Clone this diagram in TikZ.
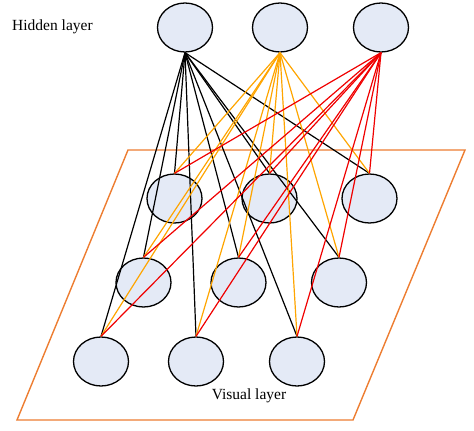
\documentclass[tikz,border=0pt]{standalone}
\usepackage{fontspec}
\setmainfont{Liberation Serif}
\usetikzlibrary{shapes.geometric}
\definecolor{nodefill}{RGB}{228,234,246}
\definecolor{planecol}{RGB}{237,125,49}
\definecolor{orangeline}{RGB}{255,165,0}
\definecolor{redline}{RGB}{240,0,0}
\tikzset{
  neuron/.style={ellipse, draw=black, line width=1.3pt, fill=nodefill, minimum width=55pt, minimum height=49pt, inner sep=0pt},
  lbl/.style={font=\fontsize{15.5}{18}\selectfont, inner sep=0pt},
  blackw/.style={draw=black, line width=1.2pt},
  orangew/.style={draw=orangeline, line width=1.2pt},
  redw/.style={draw=redline, line width=1.2pt},
  plane/.style={draw=planecol, line width=1.4pt}
}
\begin{document}
\begin{tikzpicture}[x=1pt,y=-1pt]
\useasboundingbox (0,0) rectangle (474,431);
% plane
\coordinate (p1) at (128,150);
\coordinate (p2) at (465,150);
\coordinate (p3) at (353,420);
\coordinate (p4) at (17,420);
\draw[plane] (p1) -- (p2) -- (p3) -- (p4) -- cycle;
% hidden
\node[neuron] (h1) at (185,27.5) {};
\node[neuron] (h2) at (280,27.5) {};
\node[neuron] (h3) at (381,27.5) {};
% visible
\node[neuron] (v1) at (174.5,198.5) {};
\node[neuron] (v2) at (269.5,198.5) {};
\node[neuron] (v3) at (369.5,198.5) {};
\node[neuron] (v4) at (143.5,282.5) {};
\node[neuron] (v5) at (238.5,282.5) {};
\node[neuron] (v6) at (339,282.5) {};
\node[neuron] (v7) at (101,361.5) {};
\node[neuron] (v8) at (196,361.5) {};
\node[neuron] (v9) at (297,361.5) {};
% connections
\foreach \v in {1,...,9} {
  \draw[blackw] (h1.south) -- (v\v.north);
}
\foreach \v in {1,...,9} {
  \draw[orangew] (h2.south) -- (v\v.north);
}
\foreach \v in {1,...,9} {
  \draw[redw] (h3.south) -- (v\v.north);
}
% labels
\node[lbl, anchor=west] (hl) at (12,27) {Hidden layer};
\node[lbl] (vl) at (249,396) {Visual layer};
\end{tikzpicture}
\end{document}
